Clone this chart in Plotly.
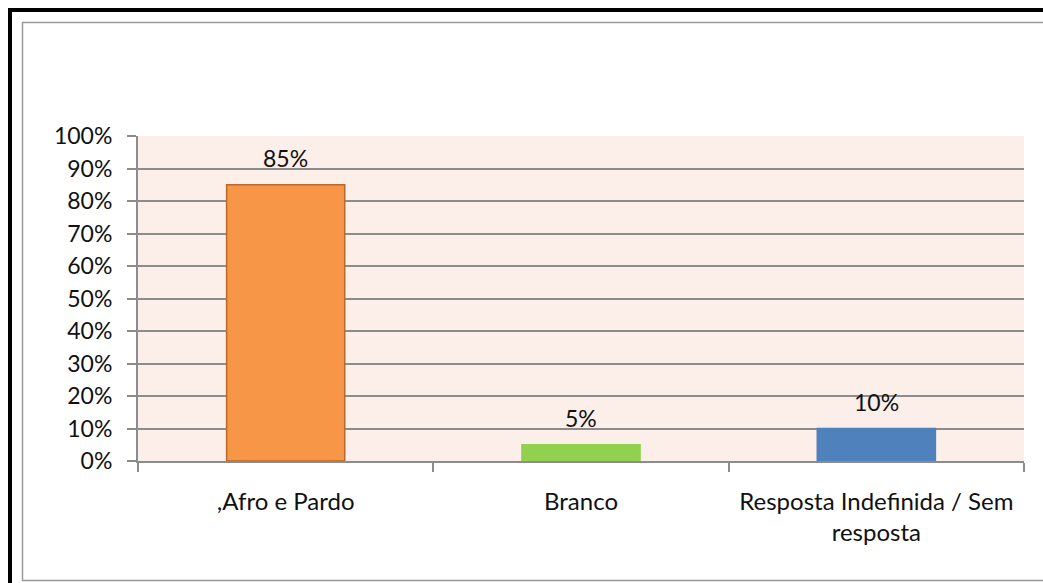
import plotly.graph_objects as go

# Data
categories = [",Afro e Pardo", "Branco", "Resposta Indefinida / Sem<br>resposta"]
values = [85, 5, 10]
bar_colors = ["#F79646", "#92D050", "#4F81BD"]
bar_lines = ["#B7692E", "#92D050", "#4F81BD"]
y_ticks = list(range(0, 101, 10))
y_ticklabels = [f"{v}%" for v in y_ticks]

FONT = "Lato, 'Open Sans', sans-serif"
FS = 23
W, H = 1043, 583
L, R, T, B = 138, 1024, 136, 461  # plot area in pixels


def px_x(px):
    return (px - L) / (R - L)


def px_y(py):
    return (B - py) / (B - T)


fig = go.Figure()
fig.add_trace(go.Bar(
    x=categories,
    y=values,
    width=0.4,
    marker=dict(color=bar_colors, line=dict(color=bar_lines, width=1.5)),
    hoverinfo="skip",
))

# value labels above bars
for c, v in zip(categories, values):
    fig.add_annotation(
        x=c, y=v, text=f"{v}%", showarrow=False,
        yanchor="bottom", yshift=11,
        font=dict(family=FONT, size=FS, color="#111111"),
    )

# outer black frame and inner grey frame
fig.add_shape(type="rect", xref="paper", yref="paper",
              x0=px_x(10), x1=px_x(1060), y0=px_y(10), y1=px_y(600),
              line=dict(color="#000000", width=4), layer="below")
fig.add_shape(type="rect", xref="paper", yref="paper",
              x0=px_x(22.5), x1=px_x(1060), y0=px_y(22.5), y1=px_y(580.5),
              line=dict(color="#9A9A9A", width=1.5), layer="below")

fig.update_layout(
    width=W, height=H,
    margin=dict(l=L, r=W - R, t=T, b=H - B, pad=0),
    paper_bgcolor="#FFFFFF",
    plot_bgcolor="#FCEEE9",
    showlegend=False,
    bargap=0.6,
    font=dict(family=FONT, size=FS, color="#111111"),
)

fig.update_yaxes(
    range=[0, 100],
    tickvals=y_ticks, ticktext=y_ticklabels,
    showgrid=True, gridcolor="#8C8C8C", gridwidth=2,
    showline=True, linecolor="#8C8C8C", linewidth=2,
    ticks="outside", ticklen=9, tickcolor="#8C8C8C", tickwidth=2,
    ticklabelstandoff=10,
    zeroline=False,
    tickfont=dict(family=FONT, size=FS, color="#111111"),
)
fig.update_xaxes(
    type="category",
    tickson="boundaries",
    showgrid=False,
    showline=True, linecolor="#8C8C8C", linewidth=2,
    ticks="outside", ticklen=9, tickcolor="#8C8C8C", tickwidth=2,
    ticklabelstandoff=18,
    tickfont=dict(family=FONT, size=24, color="#111111"),
)

fig.write_html("out.html")
